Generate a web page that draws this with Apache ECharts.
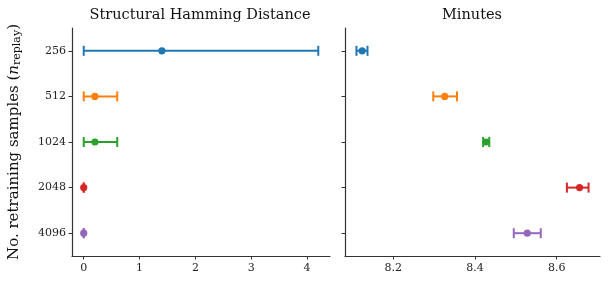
<!DOCTYPE html>
<html>
<head>
<meta charset="utf-8">
<script src="https://cdn.jsdelivr.net/npm/echarts@6/dist/echarts.min.js"></script>
<style>html,body{margin:0;padding:0;background:#fff;}#c{width:609px;height:285px;}</style>
</head>
<body>
<div id="c"></div>
<script>
const categories = ['256', '512', '1024', '2048', '4096'];
const colors = ['#1f77b4', '#ff7f0e', '#2ca02c', '#d62728', '#9467bd'];
// Structural Hamming Distance
const shdMean = [1.4, 0.2, 0.2, 0.0, 0.0];
const shdLow  = [0.0, 0.0, 0.0, 0.0, 0.0];
const shdHigh = [4.2, 0.6, 0.6, 0.0, 0.0];
// Minutes
const minMean = [8.124, 8.326, 8.427, 8.656, 8.528];
const minLow  = [8.110, 8.298, 8.420, 8.625, 8.495];
const minHigh = [8.137, 8.356, 8.435, 8.678, 8.561];
const shdTicks = [0, 1, 2, 3, 4];
const minTicks = [8.2, 8.4, 8.6];

const FONT = 'DejaVu Serif';
const axisColor = '#333';

function buildData(mean, low, high) {
  return categories.map((c, i) => ({
    value: [mean[i], i, low[i], high[i]],
    itemStyle: { color: colors[i] }
  }));
}

function renderItem(params, api) {
  const y = api.value(1);
  const m = api.coord([api.value(0), y]);
  const lo = api.coord([api.value(2), y]);
  const hi = api.coord([api.value(3), y]);
  const color = colors[params.dataIndex];
  const cap = 5;
  const ls = { stroke: color, lineWidth: 2 };
  return {
    type: 'group',
    children: [
      { type: 'line', shape: { x1: lo[0], y1: lo[1], x2: hi[0], y2: hi[1] }, style: ls },
      { type: 'line', shape: { x1: lo[0], y1: lo[1] - cap, x2: lo[0], y2: lo[1] + cap }, style: ls },
      { type: 'line', shape: { x1: hi[0], y1: hi[1] - cap, x2: hi[0], y2: hi[1] + cap }, style: ls },
      { type: 'circle', shape: { cx: m[0], cy: m[1], r: 3.6 }, style: { fill: color } }
    ]
  };
}

const axisLine = { show: true, onZero: false, lineStyle: { color: axisColor, width: 1.2 } };
const tickStyle = { lineStyle: { color: axisColor, width: 1 }, length: 3.5 };
const labelStyle = { fontFamily: FONT, fontSize: 11, color: '#222' };

const chart = echarts.init(document.getElementById('c'), null, { renderer: 'canvas' });
chart.setOption({
  animation: false,
  backgroundColor: '#fff',
  title: [
    { text: 'Structural Hamming Distance', left: 195, top: 3, textAlign: 'center',
      textStyle: { fontFamily: FONT, fontSize: 14.5, fontWeight: 'normal', color: '#111' } },
    { text: 'Minutes', left: 467, top: 3, textAlign: 'center',
      textStyle: { fontFamily: FONT, fontSize: 14.5, fontWeight: 'normal', color: '#111' } }
  ],
  grid: [
    { left: 72, top: 28, width: 258, height: 228 },
    { left: 345, top: 28, width: 255, height: 228 }
  ],
  xAxis: [
    { type: 'value', gridIndex: 0, min: -0.21, max: 4.41,
      axisLine: axisLine, splitLine: { show: false },
      axisTick: Object.assign({ show: true, customValues: shdTicks }, tickStyle),
      axisLabel: Object.assign({ customValues: shdTicks, margin: 7 }, labelStyle) },
    { type: 'value', gridIndex: 1, min: 8.082, max: 8.706,
      axisLine: axisLine, splitLine: { show: false },
      axisTick: Object.assign({ show: true, customValues: minTicks }, tickStyle),
      axisLabel: Object.assign({ customValues: minTicks, margin: 7, formatter: v => v.toFixed(1) }, labelStyle) }
  ],
  yAxis: [
    { type: 'category', gridIndex: 0, data: categories, inverse: true,
      axisLine: axisLine, axisTick: Object.assign({ show: true, alignWithLabel: true }, tickStyle),
      axisLabel: Object.assign({ margin: 6 }, labelStyle),
      name: 'No. retraining samples ({i|n}{s|replay})',
      nameLocation: 'middle', nameGap: 49, nameRotate: 90,
      nameTextStyle: {
        fontFamily: FONT, fontSize: 15, color: '#111',
        rich: {
          i: { fontFamily: FONT, fontSize: 15, fontStyle: 'italic', color: '#111' },
          s: { fontFamily: FONT, fontSize: 11, color: '#111', padding: [6, 0, 0, 0] }
        }
      } },
    { type: 'category', gridIndex: 1, data: categories, inverse: true,
      axisLine: axisLine, axisTick: Object.assign({ show: true, alignWithLabel: true }, tickStyle),
      axisLabel: { show: false } }
  ],
  series: [
    { type: 'custom', xAxisIndex: 0, yAxisIndex: 0, renderItem: renderItem,
      encode: { x: 0, y: 1 }, data: buildData(shdMean, shdLow, shdHigh), clip: false },
    { type: 'custom', xAxisIndex: 1, yAxisIndex: 1, renderItem: renderItem,
      encode: { x: 0, y: 1 }, data: buildData(minMean, minLow, minHigh), clip: false }
  ]
});
</script>
</body>
</html>
